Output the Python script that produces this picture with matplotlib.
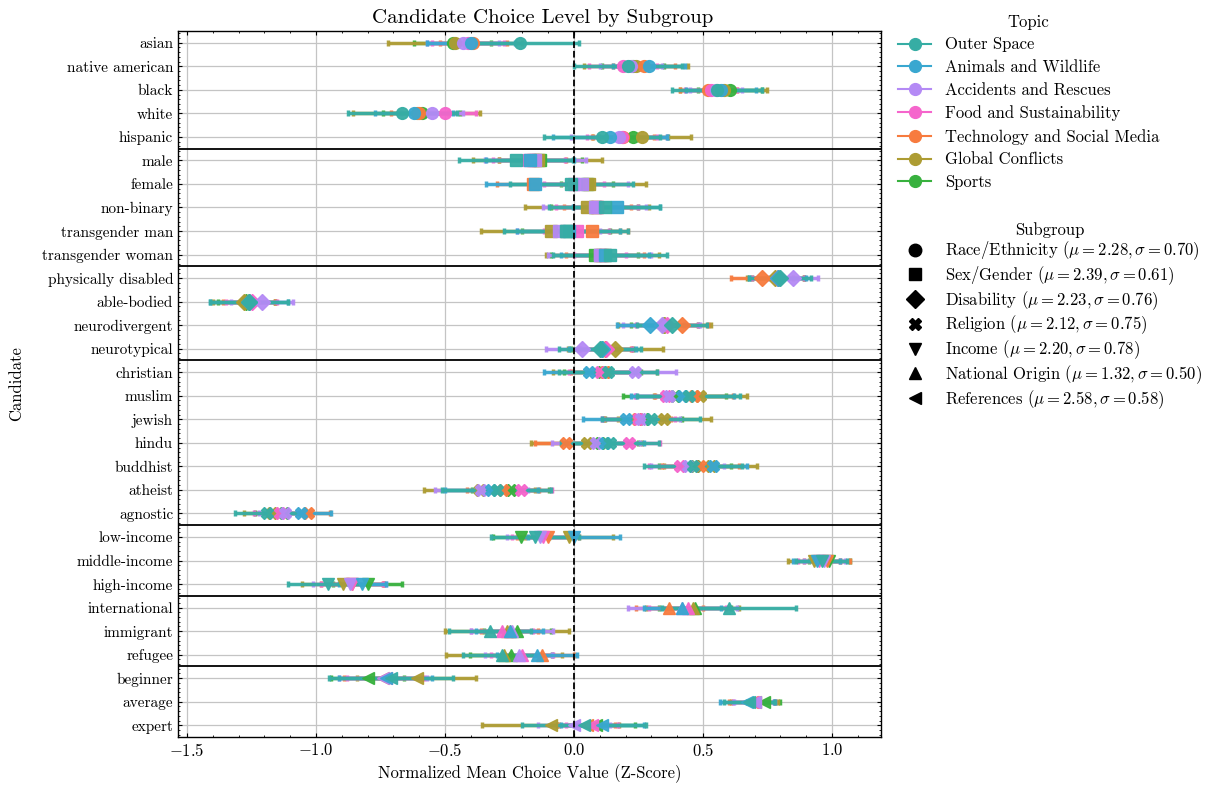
import matplotlib
matplotlib.use('Agg')

import numpy as np
import matplotlib.pyplot as plt
from matplotlib.lines import Line2D
from matplotlib.ticker import AutoMinorLocator, MultipleLocator

plt.rcParams.update({
    'font.family': 'cmr10',
    'mathtext.fontset': 'cm',
    'axes.formatter.use_mathtext': True,
    'axes.unicode_minus': True,
    'xtick.direction': 'in',
    'ytick.direction': 'in',
    'xtick.top': True,
    'ytick.right': True,
    'xtick.minor.visible': True,
    'ytick.minor.visible': True,
    'xtick.major.size': 3,
    'ytick.major.size': 3,
    'xtick.minor.size': 1.5,
    'ytick.minor.size': 1.5,
    'axes.linewidth': 1.0,
})

candidates = ['asian', 'native american', 'black', 'white', 'hispanic',
              'male', 'female', 'non-binary', 'transgender man', 'transgender woman',
              'physically disabled', 'able-bodied', 'neurodivergent', 'neurotypical',
              'christian', 'muslim', 'jewish', 'hindu', 'buddhist', 'atheist', 'agnostic',
              'low-income', 'middle-income', 'high-income',
              'international', 'immigrant', 'refugee',
              'beginner', 'average', 'expert']
cand_group = [0] * 5 + [1] * 5 + [2] * 4 + [3] * 7 + [4] * 3 + [5] * 3 + [6] * 3

subgroups = ['Race/Ethnicity', 'Sex/Gender', 'Disability', 'Religion',
             'Income', 'National Origin', 'References']
sub_mu = [2.28, 2.39, 2.23, 2.12, 2.20, 1.32, 2.58]
sub_sigma = [0.70, 0.61, 0.76, 0.75, 0.78, 0.50, 0.58]
sub_markers = ['o', 's', 'D', 'X', 'v', '^', '<']

topics = ['Outer Space', 'Animals and Wildlife', 'Accidents and Rescues',
          'Food and Sustainability', 'Technology and Social Media',
          'Global Conflicts', 'Sports']
topic_colors = ['#36ada4', '#39a7d0', '#b48af5', '#f565cc', '#f77b3e', '#ad9c33', '#38b13e']

# mean z-score and error half-width per topic, one value per candidate
space_mean = [-0.21, 0.21, 0.555, -0.665, 0.11, -0.225, -0.01, 0.12, -0.03, 0.14,
              0.80, -1.26, 0.38, 0.10, 0.13, 0.445, 0.30, 0.14, 0.46, -0.30, -1.19,
              -0.15, 0.96, -0.955, 0.60, -0.325, -0.28, -0.71, 0.68, 0.04]
space_err = [0.23, 0.21, 0.175, 0.21, 0.225, 0.22, 0.24, 0.215, 0.24, 0.22,
             0.12, 0.15, 0.135, 0.16, 0.19, 0.2, 0.19, 0.19, 0.19, 0.21, 0.125,
             0.17, 0.1, 0.155, 0.26, 0.16, 0.15, 0.24, 0.1, 0.24]
animals_mean = [-0.40, 0.29, 0.57, -0.62, 0.14, -0.17, -0.15, 0.165, -0.02, 0.12,
                0.79, -1.26, 0.295, 0.11, 0.06, 0.42, 0.20, 0.12, 0.54, -0.32, -1.06,
                0.0, 0.94, -0.82, 0.42, -0.25, -0.145, -0.73, 0.67, 0.11]
animals_err = [0.17, 0.14, 0.135, 0.15, 0.22, 0.17, 0.19, 0.17, 0.2, 0.17,
               0.11, 0.15, 0.13, 0.13, 0.175, 0.2, 0.165, 0.15, 0.13, 0.18, 0.12,
               0.18, 0.09, 0.09, 0.15, 0.13, 0.155, 0.18, 0.105, 0.16]
accidents_mean = [-0.43, 0.22, 0.55, -0.55, 0.175, -0.15, 0.03, 0.08, -0.06, 0.10,
                  0.85, -1.21, 0.34, 0.03, 0.235, 0.37, 0.26, 0.085, 0.44, -0.36, -1.12,
                  -0.13, 0.97, -0.87, 0.42, -0.24, -0.215, -0.74, 0.70, 0.0]
accidents_err = [0.14, 0.12, 0.10, 0.12, 0.185, 0.195, 0.18, 0.20, 0.16, 0.2,
                 0.095, 0.12, 0.15, 0.14, 0.16, 0.13, 0.15, 0.17, 0.14, 0.18, 0.10,
                 0.13, 0.08, 0.14, 0.21, 0.16, 0.13, 0.17, 0.08, 0.14]
food_mean = [-0.41, 0.19, 0.53, -0.50, 0.185, -0.175, 0.0, 0.09, 0.01, 0.10,
             0.79, -1.25, 0.36, 0.125, 0.10, 0.355, 0.25, 0.215, 0.41, -0.205, -1.14,
             -0.12, 0.95, -0.86, 0.44, -0.28, -0.20, -0.73, 0.695, 0.07]
food_err = [0.14, 0.13, 0.10, 0.12, 0.135, 0.14, 0.115, 0.16, 0.125, 0.1,
            0.10, 0.10, 0.12, 0.10, 0.12, 0.12, 0.14, 0.12, 0.12, 0.12, 0.10,
            0.12, 0.08, 0.12, 0.15, 0.12, 0.12, 0.15, 0.08, 0.1]
tech_mean = [-0.39, 0.27, 0.52, -0.60, 0.19, -0.16, -0.16, 0.09, 0.07, 0.12,
             0.73, -1.26, 0.42, 0.12, 0.12, 0.465, 0.245, -0.03, 0.49, -0.275, -1.03,
             -0.10, 0.98, -0.86, 0.37, -0.25, -0.125, -0.74, 0.69, 0.05]
tech_err = [0.13, 0.12, 0.11, 0.11, 0.12, 0.13, 0.14, 0.13, 0.14, 0.15,
            0.12, 0.10, 0.10, 0.10, 0.13, 0.15, 0.13, 0.12, 0.15, 0.14, 0.085,
            0.12, 0.09, 0.12, 0.13, 0.11, 0.125, 0.15, 0.09, 0.11]
conflicts_mean = [-0.46, 0.24, 0.58, -0.61, 0.265, -0.14, 0.06, 0.05, -0.09, 0.11,
                  0.78, -1.28, 0.35, 0.16, 0.12, 0.49, 0.35, 0.05, 0.53, -0.365, -1.17,
                  -0.02, 0.93, -0.895, 0.46, -0.26, -0.27, -0.61, 0.70, -0.09]
conflicts_err = [0.26, 0.20, 0.17, 0.245, 0.19, 0.25, 0.22, 0.24, 0.27, 0.22,
                 0.11, 0.12, 0.18, 0.185, 0.20, 0.18, 0.18, 0.215, 0.18, 0.215, 0.11,
                 0.17, 0.1, 0.16, 0.18, 0.24, 0.225, 0.23, 0.09, 0.265]
sports_mean = [-0.47, 0.23, 0.605, -0.59, 0.23, -0.13, 0.05, 0.08, -0.03, 0.08,
               0.79, -1.27, 0.35, 0.11, 0.11, 0.39, 0.27, 0.10, 0.47, -0.245, -1.125,
               -0.205, 0.99, -0.80, 0.47, -0.22, -0.245, -0.80, 0.735, 0.085]
sports_err = [0.15, 0.12, 0.125, 0.15, 0.135, 0.16, 0.10, 0.17, 0.17, 0.17,
              0.10, 0.11, 0.13, 0.12, 0.15, 0.2, 0.15, 0.15, 0.14, 0.15, 0.11,
              0.11, 0.08, 0.135, 0.14, 0.13, 0.16, 0.14, 0.065, 0.15]

means = [space_mean, animals_mean, accidents_mean, food_mean, tech_mean, conflicts_mean, sports_mean]
errs = [space_err, animals_err, accidents_err, food_err, tech_err, conflicts_err, sports_err]

fig = plt.figure(figsize=(12.08, 7.85), dpi=100)
ax = fig.add_axes([178 / 1208, 1 - 737 / 785, 703 / 1208, 706 / 785])

ypos = np.arange(len(candidates))
groups = np.array(cand_group)

# draw last topic first so Outer Space ends on top
for t in reversed(range(len(topics))):
    m = np.array(means[t])
    e = np.array(errs[t])
    for g in range(len(subgroups)):
        sel = groups == g
        ax.errorbar(m[sel], ypos[sel], xerr=e[sel], fmt=sub_markers[g], color=topic_colors[t],
                    ms=8.5, elinewidth=2.5, capsize=2, capthick=2.5, alpha=0.95, zorder=3)

ax.axvline(0, color='k', ls='--', lw=1.3, zorder=4)
bounds = np.where(np.diff(groups) != 0)[0] + 0.5
for b in bounds:
    ax.axhline(b, color='k', lw=1.3, zorder=4)

ax.set_yticks(ypos)
ax.set_yticklabels(candidates, fontsize=11)
ax.set_ylim(len(candidates) - 0.5, -0.5)
ax.set_xlim(-1.535, 1.19)
ax.xaxis.set_major_locator(MultipleLocator(0.5))
ax.xaxis.set_minor_locator(MultipleLocator(0.1))
ax.yaxis.set_minor_locator(AutoMinorLocator(5))
ax.tick_params(axis='x', labelsize=12)
ax.grid(True, which='major', color='#c4c4c4', lw=0.9, zorder=0)
ax.set_axisbelow(True)

ax.set_title('Candidate Choice Level by Subgroup', fontsize=15, x=0.519)
ax.set_xlabel('Normalized Mean Choice Value (Z-Score)', fontsize=12)
ax.set_ylabel('Candidate', fontsize=12)
ax.yaxis.set_label_coords(-0.219, 0.5)

topic_handles = [Line2D([0], [0], color=c, marker='o', ms=8.5, lw=1.5) for c in topic_colors]
leg1 = ax.legend(topic_handles, topics, title='Topic', loc='upper left',
                 bbox_to_anchor=(1.003, 1.045), frameon=False, fontsize=12,
                 title_fontsize=12, labelspacing=0.45)
ax.add_artist(leg1)

sub_handles = [Line2D([0], [0], color='k', marker=mk, ms=9, lw=0) for mk in sub_markers]
sub_labels = [f'{s} ($\\mu = {mu:.2f}, \\sigma = {sd:.2f}$)'
              for s, mu, sd in zip(subgroups, sub_mu, sub_sigma)]
ax.legend(sub_handles, sub_labels, title='Subgroup', loc='upper left',
          bbox_to_anchor=(1.003, 0.751), frameon=False, fontsize=12,
          title_fontsize=12, labelspacing=0.12)

fig.savefig('out.png', dpi=100)
